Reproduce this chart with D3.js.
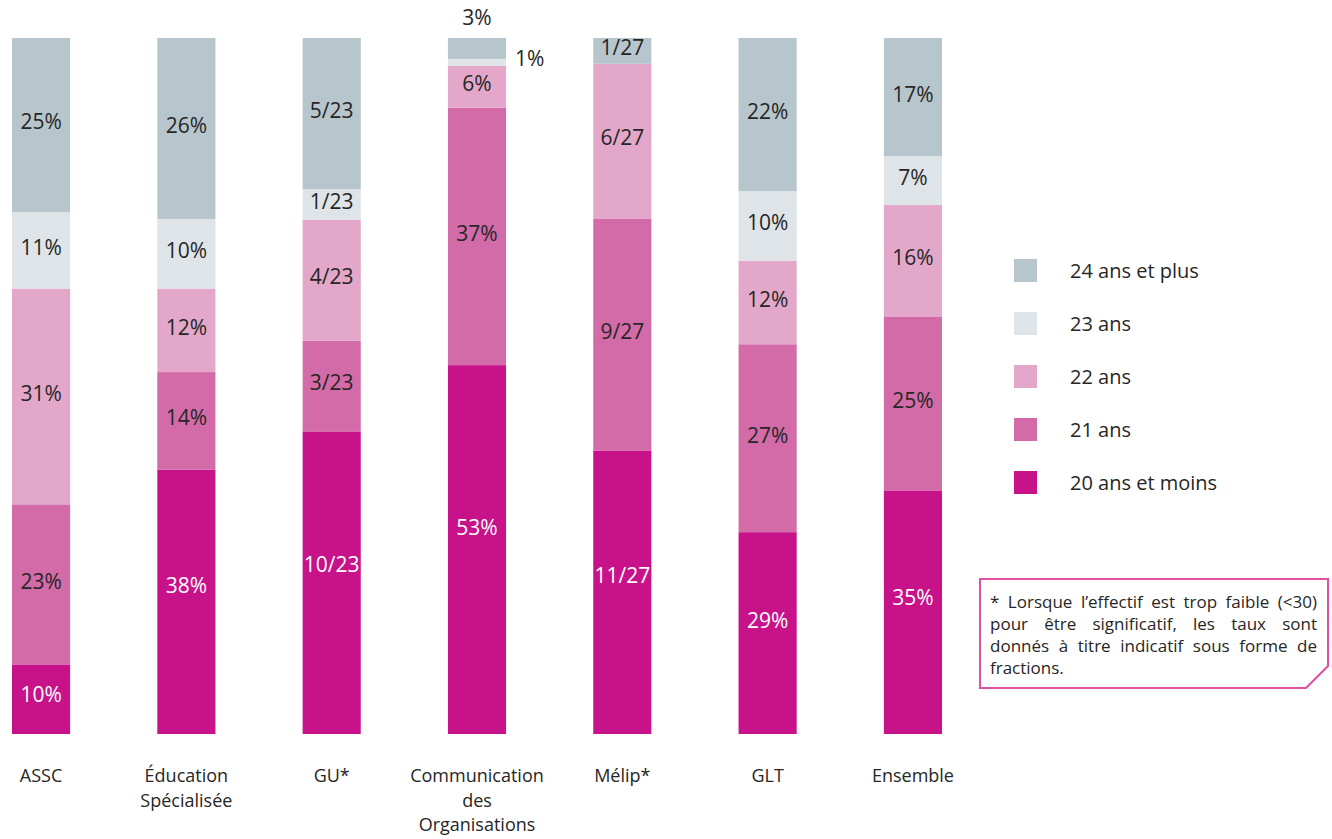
<!DOCTYPE html>
<html><head><meta charset="utf-8">
<script src="https://cdn.jsdelivr.net/npm/d3@7"></script>
<style>body{margin:0;background:#fff}svg{display:block}text{font-family:"Open Sans",sans-serif;fill:#262626}</style>
</head><body><svg id="c" width="1332" height="839"></svg>
<script>
const categories = ["ASSC", "Éducation Spécialisée", "GU*", "Communication des Organisations", "Mélip*", "GLT", "Ensemble"];
const categoryLines = [["ASSC"], ["Éducation", "Spécialisée"], ["GU*"], ["Communication", "des", "Organisations"], ["Mélip*"], ["GLT"], ["Ensemble"]];
const series = ["20 ans et moins", "21 ans", "22 ans", "23 ans", "24 ans et plus"];
const colors = ["#c8128a", "#d36ba8", "#e3a8c9", "#dfe4e8", "#b7c5cc"];
const textColors = ["#ffffff", "#262626", "#262626", "#262626", "#262626"];
// values per category, series order: 20-, 21, 22, 23, 24+
const totals = [100, 100, 23, 100, 27, 100, 100];
const isFraction = [false, false, true, false, true, false, false];
const v20 = [10, 38, 10, 53, 11, 29, 35];
const v21 = [23, 14, 3, 37, 9, 27, 25];
const v22 = [31, 12, 4, 6, 6, 12, 16];
const v23 = [11, 10, 1, 1, 0, 10, 7];
const v24 = [25, 26, 5, 3, 1, 22, 17];
const noteLines = [
  "* Lorsque l’effectif est trop faible (<30)",
  "pour être significatif, les taux sont",
  "donnés à titre indicatif sous forme de",
  "fractions."];

const svg = d3.select("#c");
const x = d3.scaleBand().domain(categories).range([12, 942]).paddingInner(0.6).paddingOuter(0);
const y = d3.scaleLinear().domain([0, 1]).range([734, 38]);
const fs = 21;

const rows = categories.map((c, i) => {
  const vals = [v20[i], v21[i], v22[i], v23[i], v24[i]];
  let cum = 0;
  return vals.map((v, k) => {
    const s0 = cum / totals[i]; cum += v; const s1 = cum / totals[i];
    return {cat: c, ci: i, k, v, s0, s1};
  });
});

const g = svg.append("g");
rows.forEach(r => {
  r.forEach(d => {
    if (d.v === 0) return;
    g.append("rect").attr("x", x(d.cat)).attr("width", x.bandwidth())
      .attr("y", y(d.s1)).attr("height", y(d.s0) - y(d.s1)).attr("fill", colors[d.k]);
  });
});
rows.forEach(r => {
  r.forEach(d => {
    if (d.v === 0) return;
    const lab = isFraction[d.ci] ? d.v + "/" + totals[d.ci] : d.v + "%";
    const top = y(d.s1), h = y(d.s0) - y(d.s1);
    let tx = x(d.cat) + x.bandwidth() / 2, anchor = "middle";
    let ty = d.k === 0 ? top + h * 0.44 : top + h * 0.5 - 3;
    let col = textColors[d.k];
    if (h < 24) {
      if (d.k === 4) { ty = top - 20; }
      else { tx = x(d.cat) + x.bandwidth() + 9; anchor = "start"; ty = top + h / 2 - 4; }
      col = "#262626";
    }
    g.append("text").attr("x", tx).attr("y", ty).attr("dy", "0.35em").attr("text-anchor", anchor)
      .style("font-size", fs + "px").style("fill", col).text(lab);
  });
});

// category labels
categories.forEach((c, i) => {
  categoryLines[i].forEach((ln, j) => {
    svg.append("text").attr("text-anchor", "middle").style("font-size", "18px")
      .attr("x", x(c) + x.bandwidth() / 2).attr("y", 782 + j * 24.6).text(ln);
  });
});

// legend
const lg = svg.append("g").attr("transform", "translate(1014,259)");
series.slice().reverse().forEach((s, j) => {
  const k = series.length - 1 - j;
  lg.append("rect").attr("x", 0).attr("y", j * 53).attr("width", 23).attr("height", 23).attr("fill", colors[k]);
  lg.append("text").attr("x", 56).attr("y", j * 53 + 12).attr("dy", "0.35em").style("font-size", "20px").text(s);
});

// note box
const bx = 980, by = 579, bw = 348, bh = 109, cut = 22;
svg.append("path").attr("d", `M${bx},${by}H${bx + bw}V${by + bh - cut}L${bx + bw - cut},${by + bh}H${bx}Z`)
  .attr("fill", "#fff").attr("stroke", "#e0519f").attr("stroke-width", 2);
const left = 990, right = 1317;
noteLines.forEach((ln, i) => {
  const words = ln.split(" ");
  const ty = 602 + i * 22;
  if (i === noteLines.length - 1) {
    svg.append("text").attr("x", left).attr("y", ty).attr("dy", "0.35em").style("font-size", "17px").text(ln);
    return;
  }
  const tmp = words.map(w => svg.append("text").attr("y", ty).attr("dy", "0.35em").style("font-size", "17px").text(w));
  const widths = tmp.map(t => t.node().getComputedTextLength());
  const total = d3.sum(widths);
  let fsz = 17;
  if (total + 3 * (words.length - 1) > right - left) {
    fsz = 17 * (right - left - 3 * (words.length - 1)) / total;
    tmp.forEach(t => t.style("font-size", fsz + "px"));
  }
  const w2 = tmp.map(t => t.node().getComputedTextLength());
  const gap = (right - left - d3.sum(w2)) / (words.length - 1);
  let cx = left;
  tmp.forEach((t, j) => { t.attr("x", cx); cx += w2[j] + gap; });
});
</script></body></html>
